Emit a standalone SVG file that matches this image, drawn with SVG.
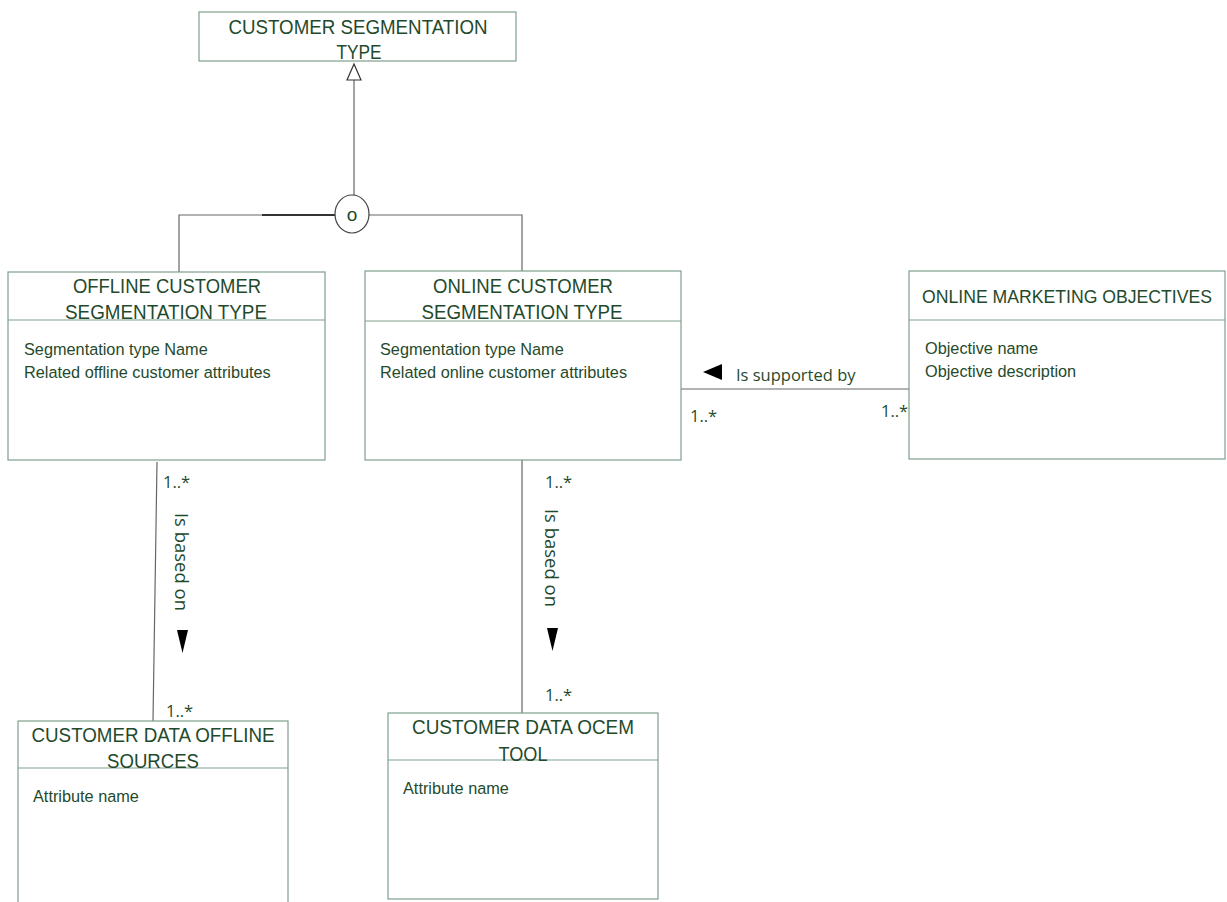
<svg xmlns="http://www.w3.org/2000/svg" width="1227" height="902" viewBox="0 0 1227 902">
  <style>
    .box { fill: #ffffff; stroke: #7f9f8c; stroke-width: 1.2; }
    .div { stroke: #7f9f8c; stroke-width: 1.2; }
    .title { font-family: "Liberation Sans", Arial, sans-serif; font-size: 20.5px; fill: #1f4a2c; text-anchor: middle; }
    .attr { font-family: "Liberation Sans", Arial, sans-serif; font-size: 16.3px; fill: #1f4a2c; }
    .lbl { font-family: "Open Sans", "Liberation Sans", sans-serif; font-size: 16.5px; fill: #1f4a2c; }
    .vlbl { font-family: "Open Sans", "Liberation Sans", sans-serif; font-size: 18.5px; fill: #1f4a2c; text-anchor: middle; }
    .conn { fill: none; stroke: #666666; stroke-width: 1.2; }
  </style>

  <g id="connectors">
    <!-- generalization to supertype -->
    <line class="conn" x1="354" y1="80" x2="354" y2="196"/>
    <polygon points="354,64 347,80 361,80" fill="#ffffff" stroke="#333333" stroke-width="1.2"/>
    <polyline class="conn" points="179,272 179,215 335,215"/>
    <line x1="262" y1="215" x2="335" y2="215" stroke="#333333" stroke-width="2"/>
    <polyline class="conn" points="369,215 522,215 522,271"/>
    <ellipse cx="352" cy="214" rx="17" ry="19" fill="#ffffff" stroke="#444444" stroke-width="1.2"/>
    <text x="352" y="221" font-family="Liberation Sans, Arial, sans-serif" font-size="19" fill="#1f4a2c" text-anchor="middle">o</text>

    <!-- offline type to offline sources -->
    <line class="conn" x1="157" y1="462" x2="153" y2="721"/>
    <text class="lbl" x="163" y="488">1..*</text>
    <text class="vlbl" transform="translate(175,562) rotate(90)">Is based on</text>
    <polygon points="177,630 188,630 182.5,653" fill="#000000"/>
    <text class="lbl" x="166" y="717">1..*</text>

    <!-- online type to OCEM tool -->
    <line class="conn" x1="522" y1="460" x2="522" y2="713"/>
    <text class="lbl" x="545" y="488">1..*</text>
    <text class="vlbl" transform="translate(545,558) rotate(90)">Is based on</text>
    <polygon points="547,628 558,628 552.5,651" fill="#000000"/>
    <text class="lbl" x="545" y="701">1..*</text>

    <!-- online type to marketing objectives -->
    <line class="conn" x1="681" y1="389" x2="909" y2="389"/>
    <polygon points="703,372 722,364 722,380" fill="#000000"/>
    <text class="lbl" x="736" y="381">Is supported by</text>
    <text class="lbl" x="690" y="422">1..*</text>
    <text class="lbl" x="881" y="417">1..*</text>
  </g>

  <g id="customer-segmentation-type">
    <rect class="box" x="199" y="12" width="317" height="49"/>
    <text class="title" x="358" y="34" textLength="259" lengthAdjust="spacingAndGlyphs">CUSTOMER SEGMENTATION</text>
    <text class="title" x="359" y="59" textLength="45" lengthAdjust="spacingAndGlyphs">TYPE</text>
  </g>

  <g id="offline-customer-segmentation-type">
    <rect class="box" x="8" y="272" width="317" height="188"/>
    <line class="div" x1="8" y1="320" x2="325" y2="320"/>
    <text class="title" x="167" y="293" textLength="188" lengthAdjust="spacingAndGlyphs">OFFLINE CUSTOMER</text>
    <text class="title" x="166" y="319" textLength="202" lengthAdjust="spacingAndGlyphs">SEGMENTATION TYPE</text>
    <text class="attr" x="24" y="355">Segmentation type Name</text>
    <text class="attr" x="24" y="378">Related offline customer attributes</text>
  </g>

  <g id="online-customer-segmentation-type">
    <rect class="box" x="365" y="271" width="316" height="189"/>
    <line class="div" x1="365" y1="321" x2="681" y2="321"/>
    <text class="title" x="523" y="293" textLength="180" lengthAdjust="spacingAndGlyphs">ONLINE CUSTOMER</text>
    <text class="title" x="522" y="319" textLength="201" lengthAdjust="spacingAndGlyphs">SEGMENTATION TYPE</text>
    <text class="attr" x="380" y="355">Segmentation type Name</text>
    <text class="attr" x="380" y="378">Related online customer attributes</text>
  </g>

  <g id="online-marketing-objectives">
    <rect class="box" x="909" y="271" width="316" height="188"/>
    <line class="div" x1="909" y1="320" x2="1225" y2="320"/>
    <text class="title" x="1067" y="303" style="font-size:18.5px" textLength="290" lengthAdjust="spacingAndGlyphs">ONLINE MARKETING OBJECTIVES</text>
    <text class="attr" x="925" y="354">Objective name</text>
    <text class="attr" x="925" y="377">Objective description</text>
  </g>

  <g id="customer-data-offline-sources">
    <rect class="box" x="18" y="721" width="270" height="190"/>
    <line class="div" x1="18" y1="768" x2="288" y2="768"/>
    <text class="title" x="153" y="742" textLength="243" lengthAdjust="spacingAndGlyphs">CUSTOMER DATA OFFLINE</text>
    <text class="title" x="153" y="768" textLength="92" lengthAdjust="spacingAndGlyphs">SOURCES</text>
    <text class="attr" x="33" y="802">Attribute name</text>
  </g>

  <g id="customer-data-ocem-tool">
    <rect class="box" x="388" y="713" width="270" height="186"/>
    <line class="div" x1="388" y1="760" x2="658" y2="760"/>
    <text class="title" x="523" y="734" textLength="222" lengthAdjust="spacingAndGlyphs">CUSTOMER DATA OCEM</text>
    <text class="title" x="523" y="761" textLength="49" lengthAdjust="spacingAndGlyphs">TOOL</text>
    <text class="attr" x="403" y="794">Attribute name</text>
  </g>
</svg>
